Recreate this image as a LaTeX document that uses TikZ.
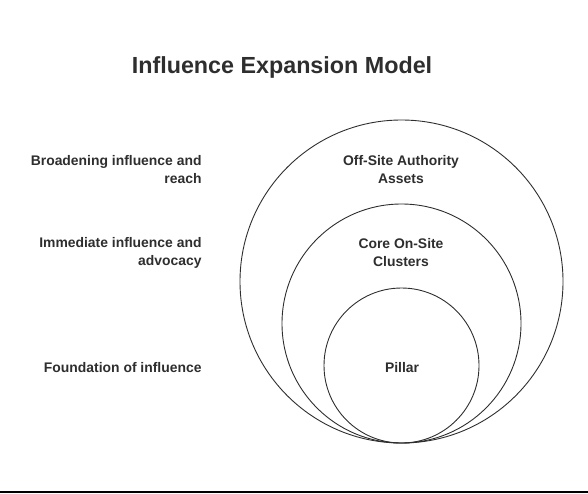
\documentclass[tikz,border=0pt]{standalone}
\usepackage{fontspec}
\setmainfont{Liberation Sans}
\definecolor{ink}{HTML}{2E2E2E}
\begin{document}
\begin{tikzpicture}[x=1pt,y=-1pt,
  ring/.style={circle,draw=ink,line width=0.9pt,inner sep=0pt,minimum size=#1},
  lbl/.style={font=\fontsize{13.9}{18}\selectfont\bfseries,text=ink,inner sep=0pt,align=center},
  side/.style={lbl,anchor=east,align=right},
  ttl/.style={font=\fontsize{23.3}{28}\selectfont\bfseries,text=ink,inner sep=0pt}]
\useasboundingbox (0,0) rectangle (588,493);
\node[ttl] (title) at (282,67) {Influence Expansion Model};
\node[ring=323pt] (big) at (401.5,281.5) {};
\node[ring=239pt] (mid) at (401.5,323.5) {};
\node[ring=155pt] (small) at (401.5,365.5) {};
\node[lbl] (tbig) at (401,169.5) {Off-Site Authority\\Assets};
\node[lbl] (tmid) at (401,253) {Core On-Site\\Clusters};
\node[lbl] (tsmall) at (402,367.5) {Pillar};
\node[side] (sbig) at (201.7,169.5) {Broadening influence and\\reach};
\node[side] (smid) at (201.7,253) {Immediate influence and\\advocacy};
\node[side] (ssmall) at (201.7,367.5) {Foundation of influence};
\coordinate (bl) at (0,492);
\coordinate (br) at (588,492);
\draw[black,line width=1.2pt] (bl) -- (br);
\end{tikzpicture}
\end{document}
